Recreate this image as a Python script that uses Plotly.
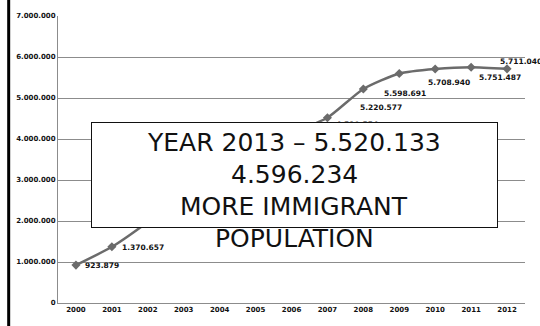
import plotly.graph_objects as go

# Foreign-born resident population by year
years = ["2000", "2001", "2002", "2003", "2004", "2005", "2006",
         "2007", "2008", "2009", "2010", "2011", "2012"]
population = [923879, 1370657, 1977946, 2664168, 3034326, 3730610, 4144166,
              4519554, 5220577, 5598691, 5708940, 5751487, 5711040]
y_ticks = [0, 1000000, 2000000, 3000000, 4000000, 5000000, 6000000, 7000000]

callout_lines = ["YEAR 2013 \u2013 5.520.133", "4.596.234",
                 "MORE IMMIGRANT", "POPULATION"]

# pixel offsets of each value label from its marker
label_dx = [26, 31, 30, 30, 30, 30, 30, 30, 18, 6, 14, 29, 14]
label_dy = [0, -1, -4, -4, -4, -4, -5, -7, -19, -20, -14, -10, 7]

line_grey = "#6b6b6b"
grid_grey = "#8c8c8c"
label_font = dict(family="DejaVu Sans", size=7.5, color="#111111", weight="bold")


def dotted(v):
    return f"{v:,}".replace(",", ".")


fig = go.Figure()
fig.add_trace(go.Scatter(
    x=years, y=population,
    mode="lines+markers",
    line=dict(color=line_grey, width=2.5, shape="spline", smoothing=0.6),
    marker=dict(symbol="diamond", size=7, color=line_grey),
    cliponaxis=False,
    showlegend=False,
))

# value labels (drawn first so the callout box covers the middle ones);
# on a category axis the annotation x is the category index
for i, (v, dx, dy) in enumerate(zip(population, label_dx, label_dy)):
    fig.add_annotation(x=i, y=v, text=dotted(v), showarrow=False,
                       xanchor="center", yanchor="middle",
                       xshift=dx, yshift=dy, font=label_font)

# white callout box laid over the middle of the curve
fig.add_annotation(text=" ", xref="paper", yref="paper",
                   x=0.5054, y=0.4473, xanchor="center", yanchor="middle",
                   width=405, height=104, borderpad=0,
                   bgcolor="white", bordercolor="#111111", borderwidth=1,
                   showarrow=False)

for text, yc in zip(callout_lines, [0.5578, 0.449, 0.3367, 0.2245]):
    fig.add_annotation(text=text, xref="paper", yref="paper",
                       x=0.5054, y=yc, xanchor="center", yanchor="middle",
                       showarrow=False,
                       font=dict(family="DejaVu Sans", size=25, color="#111111"))

# heavy rule down the left edge of the slide
fig.add_shape(type="line", xref="paper", yref="paper",
              x0=-0.1056, x1=-0.1056, y0=-0.2, y1=1.2,
              line=dict(color="#000000", width=3), layer="above")

fig.update_layout(
    width=540, height=326,
    margin=dict(l=58, r=15, t=13, b=19),
    paper_bgcolor="white", plot_bgcolor="white",
    separators=",.",
    xaxis=dict(type="category", categoryorder="array", categoryarray=years,
               range=[-0.5, len(years) - 0.5],
               showgrid=False, showline=True,
               linecolor=grid_grey, linewidth=1, ticks="",
               tickfont=dict(family="DejaVu Sans", size=7, color="#111111",
                             weight="bold")),
    yaxis=dict(range=[0, 7000000], tickvals=y_ticks, tickformat=",d",
               showgrid=True, gridcolor=grid_grey, gridwidth=1,
               showline=True, linecolor=grid_grey, linewidth=1,
               zeroline=False, ticks="",
               tickfont=dict(family="DejaVu Sans", size=7, color="#111111",
                             weight="bold")),
)

fig.write_html("out.html")
